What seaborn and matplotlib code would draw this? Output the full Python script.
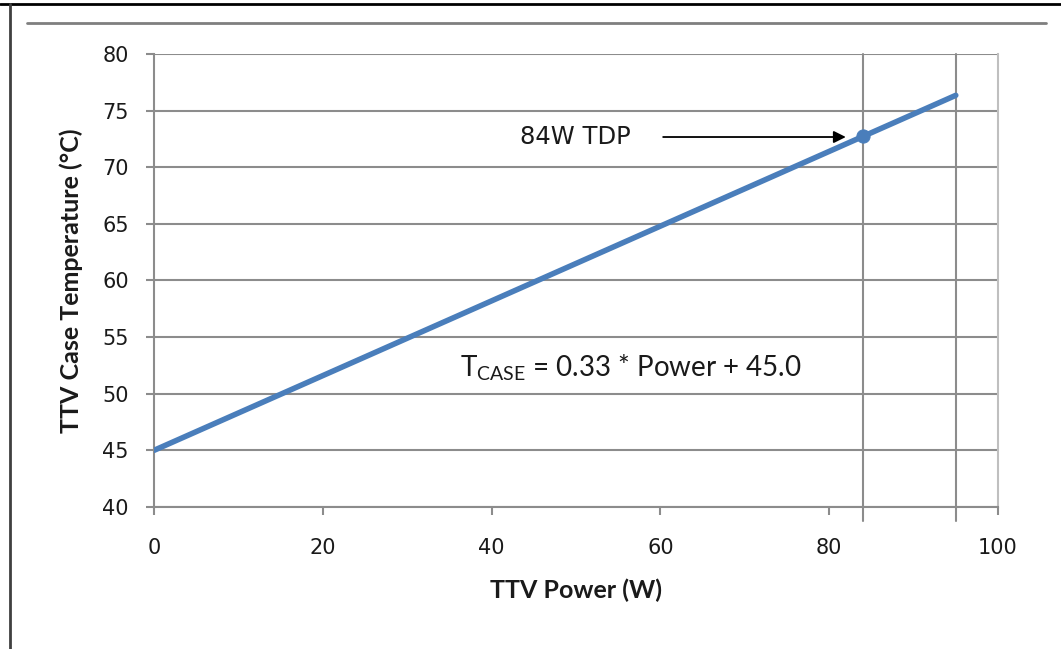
import matplotlib
matplotlib.use("Agg")
import matplotlib.pyplot as plt
import seaborn as sns
import pandas as pd
from matplotlib.lines import Line2D

# данные
power = [0, 95]
case_temp = [45.0, 76.35]
tdp_power = [84]
tdp_temp = [72.72]
x_ticks = [0, 20, 40, 60, 80, 100]
y_ticks = [40, 45, 50, 55, 60, 65, 70, 75, 80]
vlines = [84, 95]

df = pd.DataFrame({"power": power, "temp": case_temp})
df_tdp = pd.DataFrame({"power": tdp_power, "temp": tdp_temp})

sns.set_style("white")
plt.rcParams["font.family"] = ["DejaVu Sans"]

line_color = "#4A7EBB"
grid_color = "#8C8C8C"
label_font = ["Lato", "DejaVu Sans"]

fig = plt.figure(figsize=(10.61, 6.49), dpi=100)
ax = fig.add_axes([0.1451, 0.2188, 0.7955, 0.6980])

# сетка
for y in y_ticks:
    ax.axhline(y, color=grid_color, lw=1.5, zorder=1)
for x in vlines:
    ax.axvline(x, ymin=-0.03, ymax=1, color=grid_color, lw=1.5, zorder=1, clip_on=False)

sns.lineplot(data=df, x="power", y="temp", color=line_color, lw=4, ax=ax, zorder=3)
sns.scatterplot(data=df_tdp, x="power", y="temp", color=line_color, s=90,
                edgecolor=line_color, ax=ax, zorder=4)

ax.set_xlim(0, 100)
ax.set_ylim(40, 80)
ax.set_xticks(x_ticks)
ax.set_yticks(y_ticks)

for side in ["left", "bottom"]:
    ax.spines[side].set_color(grid_color)
    ax.spines[side].set_linewidth(1.5)
ax.spines["top"].set_visible(False)
ax.spines["right"].set_color("#BFBFBF")
ax.spines["right"].set_linewidth(1.5)

ax.tick_params(axis="both", which="major", direction="out", length=6, width=1.5,
               color=grid_color, labelsize=15, labelcolor="#1A1A1A",
               left=True, bottom=True)
ax.tick_params(axis="y", pad=12)
ax.tick_params(axis="x", pad=16)

ax.set_xlabel("TTV Power (W)", fontsize=18, fontweight="bold",
              family=label_font, labelpad=15, color="#1A1A1A")
ax.set_ylabel("TTV Case Temperature (°C)", fontsize=18, fontweight="bold",
              family=label_font, labelpad=14, color="#1A1A1A")

# подписи
ax.annotate("", xy=(82.3, 72.67), xytext=(60.0, 72.67),
            arrowprops=dict(arrowstyle="-|>", color="black", lw=1.3,
                            mutation_scale=18))
ax.text(49.9, 72.67, "84W TDP", fontsize=17.5, ha="center", va="center",
        color="#1A1A1A")
ax.text(56.5, 52.3, r"$\mathregular{T_{CASE}}$ = 0.33 * Power + 45.0",
        fontsize=20, ha="center", va="center", color="#1A1A1A",
        family=label_font)

# рамка
fig.add_artist(Line2D([0, 1], [0.9938, 0.9938], color="black", lw=2))
fig.add_artist(Line2D([0.0094, 0.0094], [0, 0.9938], color="#404040", lw=2))
fig.add_artist(Line2D([0.0254, 0.9859], [0.9646, 0.9646], color="#7F7F7F", lw=2))

fig.savefig("out.png", dpi=100)
